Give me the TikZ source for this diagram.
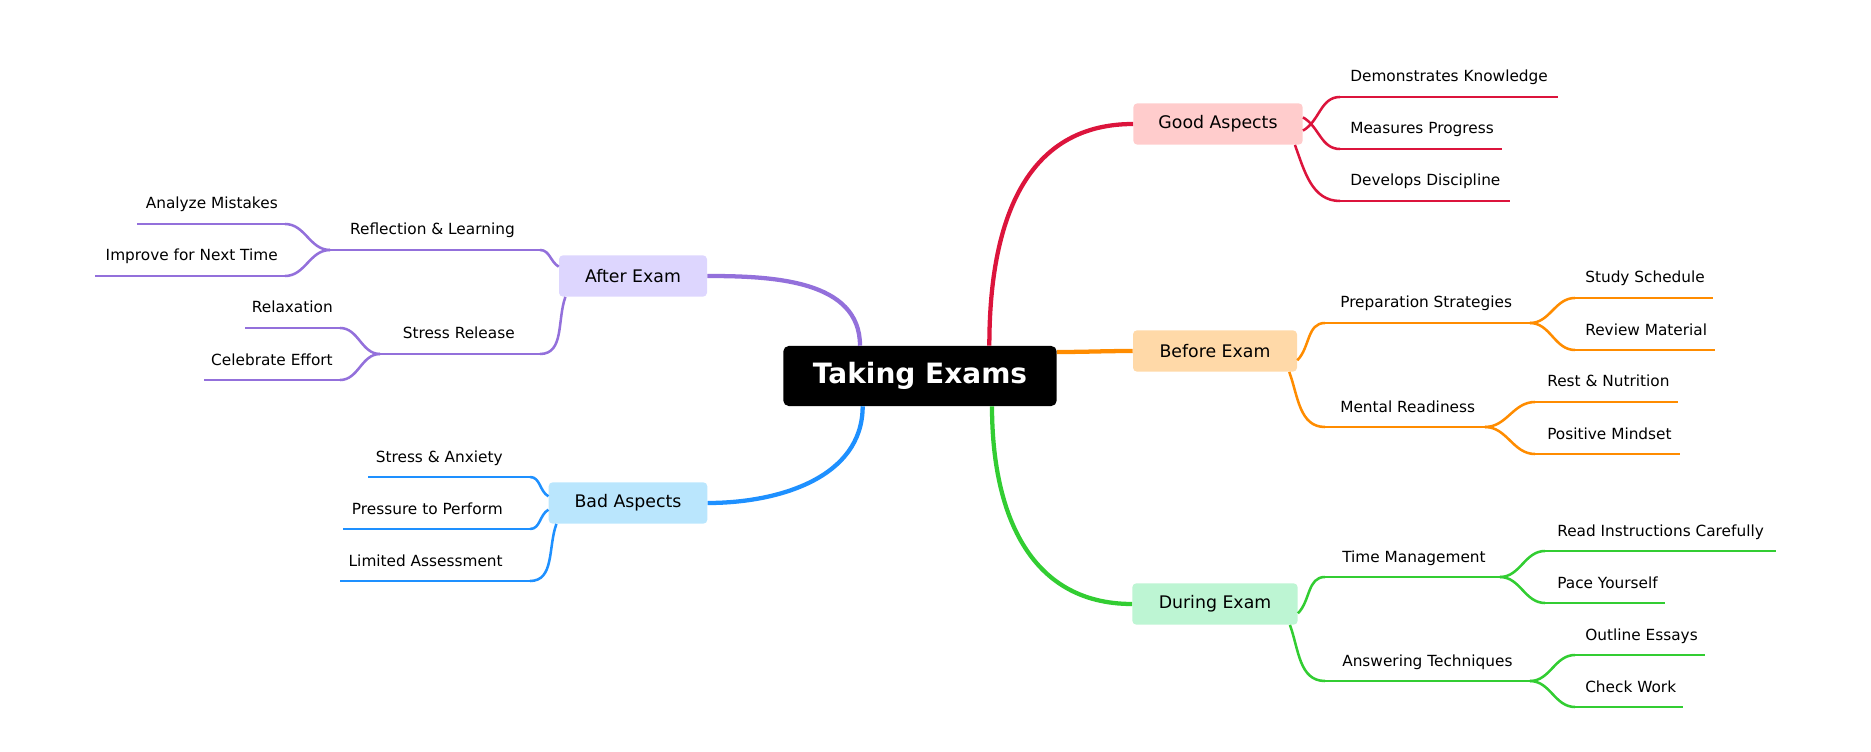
\documentclass[tikz,border=0pt]{standalone}
\usepackage{fontspec}
\setmainfont{DejaVu Sans}
\definecolor{cred}{HTML}{DC143C}
\definecolor{corg}{HTML}{FF8C00}
\definecolor{cgrn}{HTML}{32CD32}
\definecolor{cpur}{HTML}{9370DB}
\definecolor{cblu}{HTML}{1E90FF}
\tikzset{
 box/.style={rounded corners=3pt,minimum height=31pt,inner xsep=6pt,font=\fontsize{13}{15}\selectfont},
 lbl/.style={inner sep=0pt,font=\fontsize{11.5}{13}\selectfont},
 main/.style={line width=3.2pt},
 sub/.style={line width=1.9pt},
}
% \leaf{name}{color}{x1}{x2}{y}{textx}{anchor}{text}
\newcommand{\leaf}[8]{%
 \coordinate (#1a) at (#3,#5); \coordinate (#1b) at (#4,#5);
 \draw[sub,#2] (#1a) -- (#1b);
 \node[lbl,anchor=#7] (#1t) at (#6,#5-15) {#8};}
\begin{document}
\begin{tikzpicture}[x=0.75pt,y=-0.75pt]
\useasboundingbox (0,0) rectangle (1871,752);
\node[rounded corners=4pt,fill=black,text=white,minimum width=205pt,minimum height=45pt,font=\bfseries\fontsize{21}{24}\selectfont] (root) at (920,376) {Taking Exams};
\node[box,fill=red!20,minimum width=127pt] (good) at (1218,124) {Good Aspects};
\node[box,fill={rgb,255:red,255;green,217;blue,168},minimum width=123pt] (before) at (1215,351) {Before Exam};
\node[box,fill={rgb,255:red,189;green,245;blue,211},minimum width=124pt] (during) at (1215,604) {During Exam};
\node[box,fill={rgb,255:red,221;green,214;blue,254},minimum width=111pt] (after) at (633,276) {After Exam};
\node[box,fill={rgb,255:red,186;green,230;blue,253},minimum width=119pt] (bad) at (628,503) {Bad Aspects};
% main connectors
\draw[main,cred] ([xshift=52pt]root.north) to[out=90,in=180,looseness=1.1] (good.west);
\draw[main,corg] (root.east|-1057,352) to[out=0,in=180] (before.west);
\draw[main,cgrn] ([xshift=54pt]root.south) to[out=-90,in=180,looseness=1.1] (during.west);
\draw[main,cpur] ([xshift=-45pt]root.north) to[out=90,in=0] (after.east);
\draw[main,cblu] ([xshift=-43pt]root.south) to[out=-90,in=0] (bad.east);
% Good
\leaf{g1}{cred}{1340}{1558}{97}{1350}{base west}{Demonstrates Knowledge}
\leaf{g2}{cred}{1340}{1502}{149}{1350}{base west}{Measures Progress}
\leaf{g3}{cred}{1340}{1510}{201}{1350}{base west}{Develops Discipline}
\draw[sub,cred] ([yshift=-5pt]good.east) to[out=30,in=180] (g1a);
\draw[sub,cred] ([yshift=5pt]good.east) to[out=-30,in=180] (g2a);
\draw[sub,cred] ([xshift=-6pt]good.south east) to[out=-70,in=180] (g3a);
% Before
\leaf{p}{corg}{1325}{1530}{323}{1340}{base west}{Preparation Strategies}
\leaf{p1}{corg}{1575}{1713}{298}{1585}{base west}{Study Schedule}
\leaf{p2}{corg}{1575}{1715}{350}{1585}{base west}{Review Material}
\leaf{m}{corg}{1325}{1485}{427}{1340}{base west}{Mental Readiness}
\leaf{m1}{corg}{1535}{1678}{402}{1547}{base west}{Rest \& Nutrition}
\leaf{m2}{corg}{1535}{1680}{454}{1547}{base west}{Positive Mindset}
\draw[sub,corg] ([yshift=-7pt]before.east) to[out=45,in=180] (pa);
\draw[sub,corg] ([xshift=-6pt]before.south east) to[out=-70,in=180] (ma);
\draw[sub,corg] (pb) to[out=0,in=180] (p1a); \draw[sub,corg] (pb) to[out=0,in=180] (p2a);
\draw[sub,corg] (mb) to[out=0,in=180] (m1a); \draw[sub,corg] (mb) to[out=0,in=180] (m2a);
% During
\leaf{t}{cgrn}{1325}{1500}{577}{1342}{base west}{Time Management}
\leaf{t1}{cgrn}{1545}{1776}{551}{1557}{base west}{Read Instructions Carefully}
\leaf{t2}{cgrn}{1545}{1665}{603}{1557}{base west}{Pace Yourself}
\leaf{a}{cgrn}{1325}{1530}{681}{1342}{base west}{Answering Techniques}
\leaf{a1}{cgrn}{1575}{1705}{655}{1585}{base west}{Outline Essays}
\leaf{a2}{cgrn}{1575}{1683}{707}{1585}{base west}{Check Work}
\draw[sub,cgrn] ([yshift=-7pt]during.east) to[out=45,in=180] (ta);
\draw[sub,cgrn] ([xshift=-6pt]during.south east) to[out=-70,in=180] (aa);
\draw[sub,cgrn] (tb) to[out=0,in=180] (t1a); \draw[sub,cgrn] (tb) to[out=0,in=180] (t2a);
\draw[sub,cgrn] (ab) to[out=0,in=180] (a1a); \draw[sub,cgrn] (ab) to[out=0,in=180] (a2a);
% After
\leaf{r}{cpur}{540}{330}{250}{515}{base east}{Reflection \& Learning}
\leaf{r1}{cpur}{285}{137}{224}{278}{base east}{Analyze Mistakes}
\leaf{r2}{cpur}{285}{95}{276}{278}{base east}{Improve for Next Time}
\leaf{s}{cpur}{540}{380}{354}{515}{base east}{Stress Release}
\leaf{s1}{cpur}{340}{245}{328}{333}{base east}{Relaxation}
\leaf{s2}{cpur}{340}{204}{380}{333}{base east}{Celebrate Effort}
\draw[sub,cpur] ([yshift=7pt]after.west) to[out=150,in=0] (ra);
\draw[sub,cpur] ([xshift=5pt]after.south west) to[out=-110,in=0] (sa);
\draw[sub,cpur] (rb) to[out=180,in=0] (r1a); \draw[sub,cpur] (rb) to[out=180,in=0] (r2a);
\draw[sub,cpur] (sb) to[out=180,in=0] (s1a); \draw[sub,cpur] (sb) to[out=180,in=0] (s2a);
% Bad
\leaf{b1}{cblu}{530}{368}{477}{503}{base east}{Stress \& Anxiety}
\leaf{b2}{cblu}{530}{343}{529}{503}{base east}{Pressure to Perform}
\leaf{b3}{cblu}{530}{340}{581}{503}{base east}{Limited Assessment}
\draw[sub,cblu] ([yshift=5pt]bad.west) to[out=150,in=0] (b1a);
\draw[sub,cblu] ([yshift=-5pt]bad.west) to[out=-150,in=0] (b2a);
\draw[sub,cblu] ([xshift=6pt]bad.south west) to[out=-110,in=0] (b3a);
\end{tikzpicture}
\end{document}
